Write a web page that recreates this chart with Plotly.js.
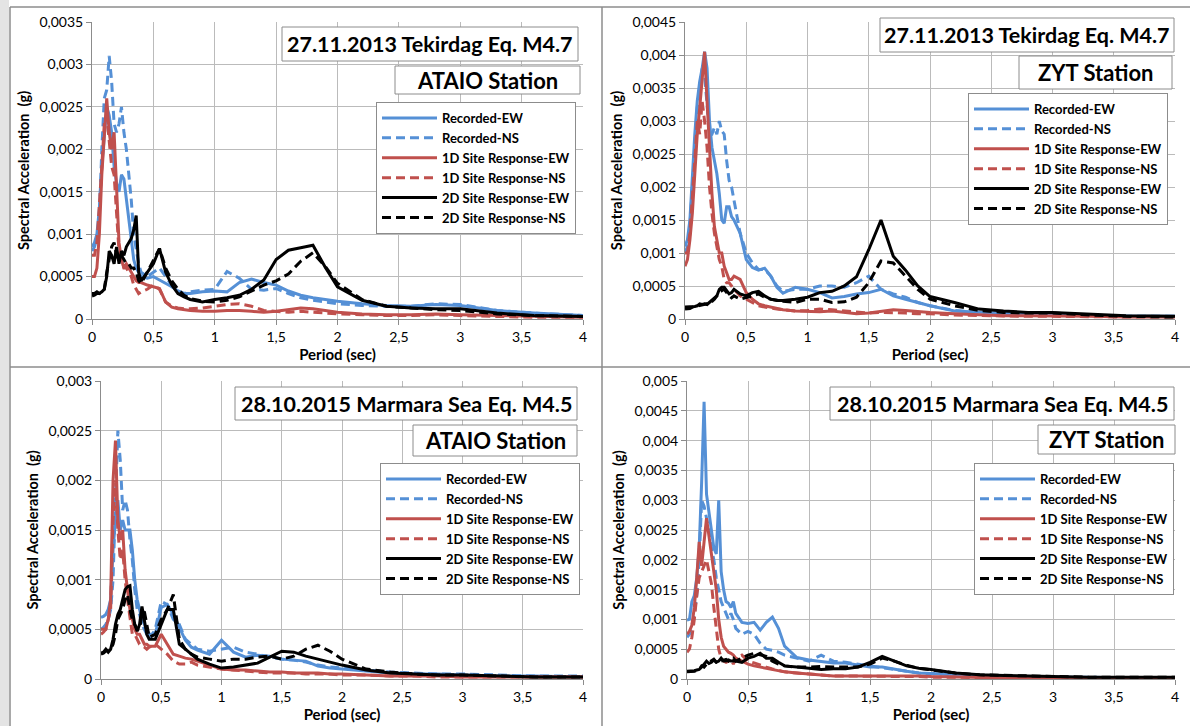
<!DOCTYPE html>
<html>
<head>
<meta charset="utf-8">
<script src="https://cdn.plot.ly/plotly-3.0.1.min.js"></script>
<style>
html,body{margin:0;padding:0;background:#fff;}
#chart{width:1190px;height:726px;}
</style>
</head>
<body>
<div id="chart"></div>
<script>
// ---------------- DATA ----------------
// Period (sec)
const T = [0,0.02,0.04,0.06,0.08,0.10,0.12,0.14,0.16,0.18,0.20,0.22,0.24,0.26,0.28,0.30,0.32,0.34,0.36,0.38,0.40,
           0.45,0.5,0.55,0.6,0.65,0.7,0.75,0.8,
           0.9,1.0,1.1,1.2,1.3,1.4,1.5,1.6,1.7,1.8,1.9,2.0,
           2.2,2.4,2.6,2.8,3.0,3.3,3.6,4.0];

// Spectral acceleration values, in units of 1e-4 g
const UNIT = 1e-4;

const SERIES_NAMES = ['Recorded-EW','Recorded-NS','1D Site Response-EW','1D Site Response-NS','2D Site Response-EW','2D Site Response-NS'];

// Panel 1: 27.11.2013 Tekirdag Eq. M4.7 - ATAIO Station
const P1_REC_EW = [8.5,9,10,13,18,22,25,24,22,18,16,15,17,16.5,14,12,9,7,6,5.5,5, 4.8,5,4.6,4.2,3.8,3.3,3.0,3.0, 3.2,3.3,3.2,4.3,4.7,4.3,4.0,3.3,2.8,2.5,2.3,2.1, 1.8,1.6,1.5,1.7,1.6,1.0,0.7,0.4];
const P1_REC_NS = [8,8.5,9.5,12,20,26,27,31,28,23,22,23,25,22,20,17,14,10,8,6.5,5.5, 5,5.5,6,5,4,3.3,3.0,3.2, 3.4,3.5,5.6,4.8,3.5,3.4,3.6,3.0,2.5,2.2,2.0,1.8, 1.6,1.5,1.5,1.8,1.7,1.0,0.7,0.4];
const P1_1D_EW  = [5,5,6,10,17,22,26,22,20,22,15,9,7,6,6.5,6,5.5,5,4.5,4.3,4.3, 4,3.8,3.6,2.0,1.4,1.2,1.1,1.0, 0.9,0.9,1.0,1.0,0.9,0.8,0.9,1.1,1.3,1.2,1.0,0.8, 0.6,0.5,0.5,0.6,0.5,0.4,0.3,0.2];
const P1_1D_NS  = [7.5,7.5,9,13,18,23,24,21,18,17,12,8,7.5,6,6,5.5,5,4,3.5,3,3.2, 3.5,4,3.5,2.0,1.5,1.3,1.2,1.2, 1.3,1.5,1.7,1.8,1.5,1.0,0.9,0.8,0.9,0.8,0.7,0.6, 0.5,0.4,0.4,0.5,0.4,0.3,0.2,0.2];
const P1_2D_EW  = [3,3,3.2,3.0,3.2,3.5,5,8,7.5,6.5,8.5,6.5,8,7.5,8.5,9,9.5,10.5,12.2,5.5,4.5, 5.5,6.5,8.3,5.5,4.0,3.0,2.6,2.3, 2.0,2.3,2.5,2.8,3.5,4.6,7.0,8.1,8.4,8.7,6.1,3.8, 2.2,1.5,1.3,1.2,1.2,0.7,0.4,0.3];
const P1_2D_NS  = [2.7,2.8,3,3,3.2,3.5,5.5,7,8.5,9,7.5,7,7.5,7,6.5,6.5,6,6,5.5,4.5,4.2, 5.5,7,8.3,6,4.5,3.5,2.8,2.4, 2.1,2.0,2.2,2.6,3.3,4.0,4.5,5.3,6.8,7.8,6.2,4.2, 2.3,1.5,1.3,1.1,1.0,0.6,0.4,0.3];

// Panel 2: 27.11.2013 Tekirdag Eq. M4.7 - ZYT Station
const P2_REC_EW = [11,12,15,22,28,33,36,38,40.5,38,30,26,24,22,19,15,14.5,17,17,15.5,15, 13,9,7.8,7.4,7.7,6.5,4.8,3.9, 4.8,4.5,4.0,3.2,3.4,3.8,4.0,4.5,3.5,3.0,2.5,2.0, 1.2,1.0,0.8,0.7,0.7,0.5,0.4,0.4];
const P2_REC_NS = [10,11,14,20,26,32,35,38,37,32,28,28,29,28,30,28.5,28,24,21,20,18, 13,10,8.5,7.5,7.5,6.5,5,4.2, 4.5,4.5,5,5,4.8,5.5,6.5,4.5,3.8,3.3,2.5,2.0, 1.3,1.0,0.8,0.8,0.7,0.5,0.4,0.4];
const P2_1D_EW  = [8,9,12,16,22,28,32,37,40.5,33,25,19,14,12,10,10,8,7,6,6,6.5, 6,4,3,2.3,2.0,1.8,1.6,1.4, 1.2,1.1,1.1,1.2,1.0,0.8,0.9,1.1,1.4,1.3,1.1,1.0, 0.8,0.6,0.5,0.5,0.5,0.4,0.3,0.3];
const P2_1D_NS  = [10,10,13,18,24,30,28,33,30,26,20,16,13,11,9,8,6,5.5,5.5,5,4.5, 3.5,3,2.5,2.0,1.8,1.6,1.5,1.4, 1.2,1.3,1.5,1.4,1.2,1.0,0.9,1.0,1.0,0.9,0.8,0.8, 0.6,0.5,0.4,0.4,0.4,0.3,0.3,0.3];
const P2_2D_EW  = [1.8,1.8,1.8,1.9,1.9,2.0,2.3,2.2,2.3,2.2,2.5,2.8,3.2,3.5,4.5,4.8,4.8,4.2,3.8,4.0,4.5, 3.8,3.5,4.0,4.2,3.5,3.0,2.8,2.8, 3.0,3.3,4.0,4.2,5.0,6.4,10.5,15,9.5,7.4,5.0,3.4, 2.5,1.5,1.2,1.0,1.0,0.7,0.5,0.4];
const P2_2D_NS  = [1.5,1.5,1.6,1.8,1.9,2.0,2.1,2.2,2.2,2.3,2.3,2.6,3.0,3.5,4.0,4.3,4.5,4.0,3.5,3.2,3.5, 3.0,3.2,3.5,3.8,3.3,3.0,2.8,2.7, 2.5,3.0,3.0,2.5,2.6,3.3,5.5,8.8,8.5,6.5,4.5,3.0, 2.0,1.3,1.0,0.9,0.9,0.6,0.4,0.3];

// Panel 3: 28.10.2015 Marmara Sea Eq. M4.5 - ATAIO Station
const P3_REC_EW = [6.2,6.3,6.5,7,8,13,16,18,15,16,15,15,15,13,10,8,7,6,5.5,5,4.5, 4.5,7.2,7.5,6.5,5.2,3.9,3.2,2.9, 2.5,3.9,2.7,2.2,2.4,2.3,2.0,1.9,1.8,1.3,1.1,1.0, 0.8,0.6,0.5,0.5,0.4,0.3,0.3,0.2];
const P3_REC_NS = [5,5.2,5.5,6,7,10,18,25,22,17,18,17,14,12,9,7,6.5,5.5,5,4.5,4, 5,7.8,7.5,6,5.5,4,3.5,3, 2.8,3.0,3.2,2.7,2.5,2.2,2.0,1.9,1.7,1.4,1.2,1.1, 0.9,0.7,0.6,0.5,0.5,0.4,0.3,0.3];
const P3_1D_EW  = [5,5,5,6,8,20,24,16,14,15,11,9,7,6,5,4.5,4.5,4,3.5,3.5,3.3, 3.3,4.5,3.5,2.5,2.3,2.1,2.0,1.8, 1.4,1.0,0.9,0.9,0.8,0.7,0.7,0.6,0.6,0.6,0.5,0.5, 0.4,0.3,0.3,0.3,0.2,0.2,0.2,0.2];
const P3_1D_NS  = [4.5,4.7,5,6,7,16,20,15,12,13,10,8,6,4.5,4.5,4,3.5,3.3,3.2,3.0,3.2, 3.5,3.0,2.5,1.8,1.5,1.5,1.7,1.4, 1.2,1.0,0.9,0.8,0.7,0.6,0.6,0.6,0.5,0.5,0.5,0.4, 0.4,0.3,0.3,0.2,0.2,0.2,0.2,0.2];
const P3_2D_EW  = [2.6,2.7,3,2.7,3.0,4,5.5,6.5,7,8,9,9.3,9.4,7,5.5,4.8,5.5,7.3,6,4.5,4.0, 4.0,5.5,7,7,3.5,3.0,2.5,2.0, 1.5,1.1,1.2,1.4,1.6,2.2,2.8,2.7,2.3,2.0,1.7,1.4, 0.9,0.6,0.5,0.4,0.4,0.3,0.2,0.2];
const P3_2D_NS  = [2.5,2.6,2.8,2.9,3,3.5,4.5,6,6.5,7,8,8.5,7,6,5.5,5.0,5,6.5,6.8,5.5,4.2, 4.5,6,7,8.5,4,3.0,2.5,2.2, 2.0,1.8,2.0,2.0,2.2,2.3,2.0,2.3,3.0,3.4,2.8,2.0, 1.0,0.7,0.5,0.4,0.4,0.3,0.2,0.2];

// Panel 4: 28.10.2015 Marmara Sea Eq. M4.5 - ZYT Station
const P4_REC_EW = [9.9,10,13,14,17,22,33,46.5,31,28,25,22,21,30,18,15,13,12.7,12,13,11, 9.5,9.3,9.5,8.2,9.5,10.4,8.5,5.5, 3.6,3.2,3.0,2.7,2.7,2.3,2.0,2.0,1.6,1.3,1.0,0.9, 0.7,0.5,0.4,0.3,0.3,0.2,0.2,0.1];
const P4_REC_NS = [7,7.5,9,11,14,20,30,29,27,25,22,20,17,15,13,12,11,10,11,10,8.5, 7.5,8,7.5,6,5,4.8,4.5,4, 3.5,3.0,4.0,3.0,2.8,2.5,2.2,2.0,1.6,1.3,1.0,0.9, 0.7,0.5,0.4,0.4,0.3,0.3,0.2,0.2];
const P4_1D_EW  = [7.5,8,9,12,17,23,19,23,27,24,20.5,18,15,10,7,5.5,5,4.5,4.3,4.0,3.5, 3.0,2.5,2.2,2.0,1.8,1.6,1.4,1.2, 1.0,0.8,0.6,0.5,0.5,0.5,0.5,0.6,0.6,0.5,0.5,0.4, 0.3,0.3,0.2,0.2,0.2,0.1,0.1,0.1];
const P4_1D_NS  = [4.5,5,7,10,14,17,18,19,20,18,16,12,8,5,3.5,3,2.8,3,3.2,2.5,3.5, 4,3,2.7,2.3,2.0,1.7,1.5,1.2, 1.0,0.8,0.6,0.5,0.5,0.5,0.5,0.5,0.5,0.4,0.4,0.3, 0.3,0.2,0.2,0.2,0.2,0.1,0.1,0.1];
const P4_2D_EW  = [1.3,1.3,1.3,1.4,1.5,1.6,2.0,2.5,3.0,2.6,2.8,3.2,2.8,3.0,3.5,3.0,3.0,3.2,3.0,3.0,3.0, 2.8,3.5,3.8,4.3,3.5,3.5,2.8,2.2, 2.0,1.8,1.6,1.7,1.7,2.0,2.8,3.8,3.0,2.2,1.8,1.6, 1.0,0.7,0.6,0.5,0.4,0.3,0.3,0.3];
const P4_2D_NS  = [1.2,1.2,1.3,1.3,1.4,1.6,2.2,2.0,2.5,2.8,3.0,3.3,2.8,2.6,3.0,3.2,3.3,3.0,3.3,3.5,3.0, 3.5,4.0,4.3,4.0,3.8,3.0,2.5,2.2, 2.0,2.0,2.1,2.0,2.0,2.0,2.5,3.5,3.0,2.3,1.8,1.5, 1.0,0.7,0.6,0.5,0.4,0.3,0.3,0.3];

const PANEL_TITLES = ['27.11.2013 Tekirdag Eq. M4.7','27.11.2013 Tekirdag Eq. M4.7','28.10.2015 Marmara Sea Eq. M4.5','28.10.2015 Marmara Sea Eq. M4.5'];
const STATIONS = ['ATAIO Station','ZYT Station','ATAIO Station','ZYT Station'];
const Y_MAX = [0.0035, 0.0045, 0.003, 0.005];
const X_TITLE = 'Period (sec)';
const Y_TITLE = 'Spectral Acceleration  (g)';

const PANELS = [
  [P1_REC_EW,P1_REC_NS,P1_1D_EW,P1_1D_NS,P1_2D_EW,P1_2D_NS],
  [P2_REC_EW,P2_REC_NS,P2_1D_EW,P2_1D_NS,P2_2D_EW,P2_2D_NS],
  [P3_REC_EW,P3_REC_NS,P3_1D_EW,P3_1D_NS,P3_2D_EW,P3_2D_NS],
  [P4_REC_EW,P4_REC_NS,P4_1D_EW,P4_1D_NS,P4_2D_EW,P4_2D_NS]
];

// ---------------- STYLE / LAYOUT ----------------
const W = 1190, H = 726;
const px = x => x / W;
const py = y => 1 - y / H;
const FONT = 'Lato, "Open Sans", sans-serif';
const COLORS = ['#5590D6','#5590D6','#C0504D','#C0504D','#000000','#000000'];
const DASH = ['solid','9px,5px','solid','9px,5px','solid','9px,5px'];

// plot areas in pixels [left, right, top, bottom]
const AREAS = [[92,583,22,319],[685,1175,22,319],[101,583,381,679],[687,1175,381,679]];
// title boxes [l,r,t,b], station boxes, legend anchor [right, top]
const TBOX = [[282,578,27,61],[880,1174,18,52],[235,577,387,420],[830,1174,387,420]];
const SBOX = [[395,580,66,94],[1019,1172,56,89],[413,577,425,456],[1038,1175,425,454]];
const LEG  = [[576,102],[1168,93],[580,463],[1174,463]];

const traces = [];
const layout = {
  width: W, height: H,
  margin: {l:0, r:0, t:0, b:0},
  paper_bgcolor: '#ffffff',
  plot_bgcolor: '#ffffff',
  separators: ', ',
  showlegend: true,
  font: {family: FONT, color: '#000'},
  shapes: [], annotations: []
};

PANELS.forEach((series, p) => {
  const sfx = p === 0 ? '' : String(p + 1);
  const legName = 'legend' + sfx;
  series.forEach((vals, i) => {
    traces.push({
      x: T,
      y: vals.map(v => v * UNIT),
      type: 'scatter', mode: 'lines',
      name: SERIES_NAMES[i],
      xaxis: 'x' + sfx, yaxis: 'y' + sfx,
      legend: legName,
      line: {color: COLORS[i], width: 3, dash: DASH[i]},
      hoverinfo: 'skip'
    });
  });
  const a = AREAS[p];
  const axCommon = {
    showgrid: true, gridcolor: '#BBBBBB', gridwidth: 1,
    showline: true, linecolor: '#8C8C8C', linewidth: 1,
    zeroline: false, ticks: 'outside', ticklen: 5, tickcolor: '#8C8C8C',
    tickfont: {family: FONT, size: 14, color: '#000'},
    fixedrange: true
  };
  layout['xaxis' + sfx] = Object.assign({}, axCommon, {
    domain: [px(a[0]), px(a[1])], anchor: 'y' + sfx,
    range: [0, 4], dtick: 0.5, tick0: 0, tickformat: '.1~f',
    title: {text: X_TITLE, font: {family: FONT, size: 15, weight: 'bold', color: '#000'}, standoff: 1}
  });
  layout['yaxis' + sfx] = Object.assign({}, axCommon, {
    domain: [py(a[3]), py(a[2])], anchor: 'x' + sfx,
    range: [0, Y_MAX[p]], dtick: 0.0005, tick0: 0, tickformat: '.4~f',
    title: {text: Y_TITLE, font: {family: FONT, size: 14.5, weight: 'bold', color: '#000'}, standoff: 6}
  });
  layout[legName] = {
    x: px(LEG[p][0]), y: py(LEG[p][1]), xanchor: 'right', yanchor: 'top',
    xref: 'paper', yref: 'paper',
    bgcolor: '#ffffff', bordercolor: '#8C8C8C', borderwidth: 1,
    font: {family: FONT, size: 13, weight: 'bold', color: '#000'},
    itemwidth: 55, tracegroupgap: 0
  };
  // title & station boxes
  [[TBOX[p], PANEL_TITLES[p], 21.5], [SBOX[p], STATIONS[p], 22]].forEach(([b, txt, fs]) => {
    layout.shapes.push({type: 'rect', xref: 'paper', yref: 'paper',
      x0: px(b[0]), x1: px(b[1]), y0: py(b[3]), y1: py(b[2]),
      line: {color: '#8C8C8C', width: 1}, fillcolor: '#ffffff', layer: 'above'});
    layout.annotations.push({xref: 'paper', yref: 'paper',
      x: px((b[0] + b[1]) / 2), y: py((b[2] + b[3]) / 2),
      xanchor: 'center', yanchor: 'middle', showarrow: false, text: txt,
      font: {family: FONT, size: fs, weight: 'bold', color: '#000'}});
  });
});

// panel frames
const frameLine = {color: '#8C8C8C', width: 1.5};
layout.shapes.push({type:'rect', xref:'paper', yref:'paper', x0:0, x1:px(9), y0:0, y1:1, fillcolor:'#E4E4E4', line:{width:0}, layer:'below'});
[[10,7,1190,7],[10,7,10,726],[602,7,602,726],[10,367,1190,367]].forEach(s => {
  layout.shapes.push({type:'line', xref:'paper', yref:'paper', x0:px(s[0]), y0:py(s[1]), x1:px(s[2]), y1:py(s[3]), line: frameLine, layer:'below'});
});

Plotly.newPlot('chart', traces, layout, {displayModeBar: false, staticPlot: true});
</script>
</body>
</html>
